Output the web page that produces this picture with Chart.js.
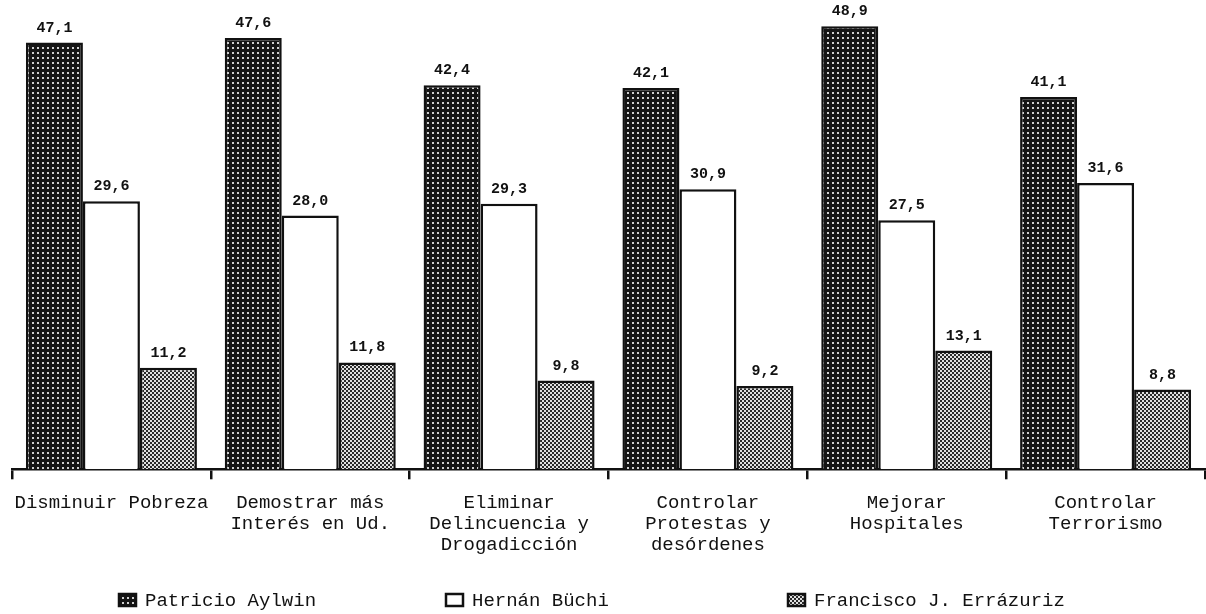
<!DOCTYPE html>
<html>
<head>
<meta charset="utf-8">
<script src="https://cdn.jsdelivr.net/npm/chart.js@4/dist/chart.umd.min.js"></script>
<style>
  html, body { margin: 0; padding: 0; background: #fff; }
  #wrap { width: 1206px; height: 614px; }
</style>
</head>
<body>
<div id="wrap"><canvas id="myChart"></canvas></div>
<script>
  // data
  const categories = [
    ['Disminuir Pobreza'],
    ['Demostrar más', 'Interés en Ud.'],
    ['Eliminar', 'Delincuencia y', 'Drogadicción'],
    ['Controlar', 'Protestas y', 'desórdenes'],
    ['Mejorar', 'Hospitales'],
    ['Controlar', 'Terrorismo']
  ];
  const seriesNames = ['Patricio Aylwin', 'Hernán Büchi', 'Francisco J. Errázuriz'];
  const aylwin = [47.1, 47.6, 42.4, 42.1, 48.9, 41.1];
  const buchi = [29.6, 28.0, 29.3, 30.9, 27.5, 31.6];
  const errazuriz = [11.2, 11.8, 9.8, 9.2, 13.1, 8.8];

  const mono = "'Liberation Mono', 'DejaVu Sans Mono', monospace";

  const probe = document.createElement('canvas').getContext('2d');
  const darkFill = (function () {
    var c = document.createElement('canvas'); c.width = 5; c.height = 5;
    var g = c.getContext('2d');
    g.fillStyle = '#141414'; g.fillRect(0, 0, 5, 5);
    g.fillStyle = '#cfcfcf'; g.fillRect(2, 2, 2, 2);
    return probe.createPattern(c, 'repeat');
  })();
  const lightFill = (function () {
    var c = document.createElement('canvas'); c.width = 4; c.height = 4;
    var g = c.getContext('2d');
    g.fillStyle = '#e0e0e0'; g.fillRect(0, 0, 4, 4);
    g.fillStyle = '#2a2a2a';
    g.fillRect(0, 0, 2, 2); g.fillRect(2, 2, 2, 2);
    return probe.createPattern(c, 'repeat');
  })();

  const fills = [darkFill, '#ffffff', lightFill];

  // value labels with comma decimals
  const valueLabels = {
    id: 'valueLabels',
    afterDatasetsDraw(chart) {
      var ctx = chart.ctx;
      ctx.save();
      ctx.font = 'bold 15px ' + mono;
      ctx.fillStyle = '#111';
      ctx.textAlign = 'center';
      ctx.textBaseline = 'alphabetic';
      chart.data.datasets.forEach(function (ds, i) {
        chart.getDatasetMeta(i).data.forEach(function (bar, j) {
          ctx.fillText(ds.data[j].toFixed(1).replace('.', ','), bar.x, bar.y - 11);
        });
      });
      ctx.restore();
    }
  };

  // legend drawn along the bottom
  const bottomLegend = {
    id: 'bottomLegend',
    afterDraw(chart) {
      var ctx = chart.ctx;
      var xs = [119, 446, 788];
      var y = 600;
      ctx.save();
      ctx.font = '19px ' + mono;
      ctx.textBaseline = 'middle';
      chart.data.datasets.forEach(function (ds, i) {
        ctx.fillStyle = fills[i];
        ctx.fillRect(xs[i], y - 6, 17, 12);
        ctx.lineWidth = 2.5;
        ctx.strokeStyle = '#111';
        ctx.strokeRect(xs[i], y - 6, 17, 12);
        ctx.fillStyle = '#111';
        ctx.fillText(ds.label, xs[i] + 26, y + 1);
      });
      ctx.restore();
    }
  };

  const ctx = document.getElementById('myChart');

  new Chart(ctx, {
    type: 'bar',
    data: {
      labels: categories,
      datasets: [
        { label: seriesNames[0], data: aylwin, backgroundColor: fills[0] },
        { label: seriesNames[1], data: buchi, backgroundColor: fills[1] },
        { label: seriesNames[2], data: errazuriz, backgroundColor: fills[2] }
      ]
    },
    options: {
      responsive: true,
      maintainAspectRatio: false,
      animation: false,
      layout: { padding: { left: 12, right: 1, top: 0, bottom: 46 } },
      datasets: {
        bar: {
          borderColor: '#111',
          borderWidth: 2.5,
          borderSkipped: 'bottom',
          categoryPercentage: 0.86,
          barPercentage: 1.0
        }
      },
      plugins: {
        legend: { display: false },
        tooltip: { enabled: false }
      },
      scales: {
        y: {
          display: false,
          min: 0,
          max: 51.8
        },
        x: {
          border: { display: true, color: '#111', width: 2.5 },
          grid: {
            display: true,
            drawOnChartArea: false,
            drawTicks: true,
            tickLength: 10,
            color: '#111',
            lineWidth: 2.5,
            offset: true
          },
          ticks: {
            color: '#111',
            font: { family: mono, size: 19, lineHeight: 1.1 },
            padding: 13,
            maxRotation: 0,
            autoSkip: false
          }
        }
      }
    },
    plugins: [valueLabels, bottomLegend]
  });
</script>
</body>
</html>
